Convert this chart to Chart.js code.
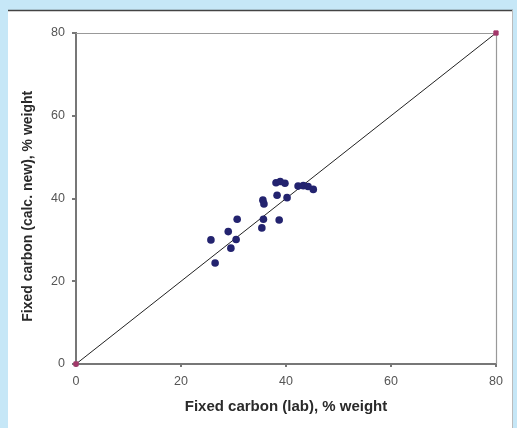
<!DOCTYPE html>
<html>
<head>
<meta charset="utf-8">
<script src="https://cdn.jsdelivr.net/npm/chart.js@4"></script>
<style>
    html, body { margin: 0; padding: 0; background: #c6e7f7; }
    canvas { display: block; }
</style>
</head>
<body>
<canvas id="carbonChart" width="517" height="428"></canvas>
<script>
// fixed carbon, lab value vs. calculated (new) value
const labCarbon = [25.7, 26.5, 29.0, 29.5, 30.5, 30.7, 35.6, 35.8, 35.7, 35.4,
    38.7, 38.3, 40.2, 38.1, 38.9, 39.8, 42.3, 43.3, 44.2, 45.2]
const calcCarbon = [30.0, 24.4, 32.0, 28.0, 30.1, 35.0, 39.6, 38.7, 35.0, 32.9,
    34.8, 40.8, 40.2, 43.8, 44.1, 43.7, 43.0, 43.1, 42.9, 42.2]

// 1:1 reference line
const parityX = [0, 80]
const parityY = [0, 80]

const axisTicks = [0, 20, 40, 60, 80]

const toPoints = function (xs, ys) {
    return xs.map(function (x, i) { return { x: x, y: ys[i] } })
}

// light blue frame with the white card on top
const framePlugin = {
    id: 'frame',
    beforeDraw: function (chart) {
        const c = chart.ctx
        c.save()
        c.fillStyle = '#c6e7f7'
        c.fillRect(0, 0, chart.width, chart.height)
        c.fillStyle = '#ffffff'
        c.fillRect(8, 10, 505, chart.height - 10)
        c.strokeStyle = '#444444'
        c.lineWidth = 1.5
        c.beginPath()
        c.moveTo(8, 10.5)
        c.lineTo(513, 10.5)
        c.stroke()
        c.strokeStyle = '#bbbbbb'
        c.lineWidth = 1
        c.beginPath()
        c.moveTo(512.5, 10)
        c.lineTo(512.5, chart.height)
        c.stroke()
        c.restore()
    },
    beforeDatasetsDraw: function (chart) {
        // top and right edge of the plot box
        const a = chart.chartArea
        const c = chart.ctx
        c.save()
        c.strokeStyle = '#999999'
        c.lineWidth = 1.2
        c.beginPath()
        c.moveTo(a.left, a.top + 0.5)
        c.lineTo(a.right + 0.5, a.top + 0.5)
        c.lineTo(a.right + 0.5, a.bottom)
        c.stroke()
        c.restore()
    }
}

const ctx = document.getElementById('carbonChart')

const carbonChart = new Chart(ctx, {
    type: 'scatter',
    data: {
        datasets: [{
            label: 'parity',
            data: toPoints(parityX, parityY),
            showLine: true,
            borderColor: '#222222',
            borderWidth: 1,
            pointStyle: 'rect',
            pointRadius: 3,
            pointBackgroundColor: '#a3386a',
            pointBorderColor: '#a3386a',
            clip: false,
            order: 2
        }, {
            label: 'samples',
            data: toPoints(labCarbon, calcCarbon),
            pointRadius: 3.8,
            pointBackgroundColor: '#23236f',
            pointBorderColor: '#23236f',
            pointBorderWidth: 0,
            order: 1
        }]
    },
    options: {
        responsive: false,
        animation: false,
        layout: { padding: { top: 33, right: 21, bottom: 0, left: 0 } },
        plugins: {
            legend: { display: false },
            tooltip: { enabled: false }
        },
        scales: {
            x: {
                min: 0,
                max: 80,
                afterFit: function (scale) { scale.height = 64 },
                afterBuildTicks: function (scale) {
                    scale.ticks = axisTicks.map(function (v) { return { value: v } })
                },
                border: { color: '#777777', width: 2 },
                grid: { drawOnChartArea: false, tickLength: 3, color: '#777777', lineWidth: 2 },
                ticks: {
                    padding: 7,
                    color: '#555555',
                    font: { family: 'Liberation Sans', size: 12.5 }
                },
                title: {
                    display: true,
                    text: 'Fixed carbon (lab), % weight',
                    color: '#2a2a2a',
                    font: { family: 'Liberation Sans', size: 15, weight: 'bold' },
                    padding: { top: 2, bottom: 12 }
                }
            },
            y: {
                min: 0,
                max: 80,
                afterFit: function (scale) { scale.width = 76 },
                afterBuildTicks: function (scale) {
                    scale.ticks = axisTicks.map(function (v) { return { value: v } })
                },
                border: { color: '#777777', width: 2 },
                grid: { drawOnChartArea: false, tickLength: 4, color: '#777777', lineWidth: 2 },
                ticks: {
                    padding: 7,
                    color: '#555555',
                    font: { family: 'Liberation Sans', size: 12.5 }
                },
                title: {
                    display: true,
                    text: 'Fixed carbon (calc. new), % weight    ',
                    color: '#2a2a2a',
                    font: { family: 'Liberation Sans', size: 14, weight: 'bold' },
                    padding: { top: 20, bottom: 2 }
                }
            }
        }
    },
    plugins: [framePlugin]
})
</script>
</body>
</html>
